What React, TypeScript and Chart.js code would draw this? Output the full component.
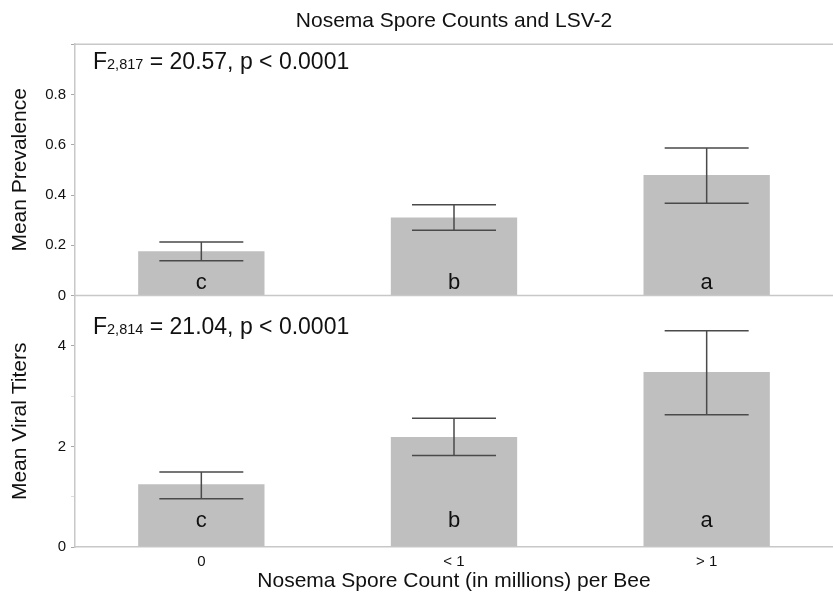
import React, { useEffect, useRef } from 'react';
import { Chart, registerables } from 'chart.js';

Chart.register(...registerables);

// ---- data ----
const categories = ['0', '< 1', '> 1'];
const groupLetters = ['c', 'b', 'a'];

const prevalenceMeans = [0.176, 0.311, 0.48];
const prevalenceUpper = [0.213, 0.361, 0.587];
const prevalenceLower = [0.139, 0.26, 0.367];

const titerMeans = [1.25, 2.19, 3.48];
const titerUpper = [1.49, 2.56, 4.3];
const titerLower = [0.96, 1.82, 2.63];

const prevalenceStat = ['F', '2,817', ' = 20.57, p < 0.0001'];
const titerStat = ['F', '2,814', ' = 21.04, p < 0.0001'];

const prevalenceRange = [0, 1];
const titerRange = [0, 5];

const FONT = '"Liberation Sans", Arial, Helvetica, sans-serif';
const AXIS_COLOR = '#c8c8c8';
const BAR_COLOR = '#bfbfbf';
const ERR_COLOR = '#4a4a4a';
const TEXT_COLOR = '#111';

const overlayPlugin = {
  id: 'overlay',
  afterDatasetsDraw(chart: any) {
    const ctx = chart.ctx as CanvasRenderingContext2D;
    const { left, right } = chart.chartArea;
    const yTop = chart.scales.yTop;
    const yBot = chart.scales.yBot;
    ctx.save();

    // panel frame lines
    ctx.strokeStyle = AXIS_COLOR;
    ctx.lineWidth = 1.5;
    ctx.beginPath();
    ctx.moveTo(left, yTop.top);
    ctx.lineTo(right, yTop.top);
    const z = yTop.getPixelForValue(0);
    ctx.moveTo(left, z);
    ctx.lineTo(right, z);
    ctx.stroke();

    const panels = [
      { scale: yTop, ds: 0, upper: prevalenceUpper, lower: prevalenceLower, letterOff: 7, stat: prevalenceStat, statOff: 25 },
      { scale: yBot, ds: 1, upper: titerUpper, lower: titerLower, letterOff: 20, stat: titerStat, statOff: 38 },
    ];

    for (const p of panels) {
      const meta = chart.getDatasetMeta(p.ds);
      const zero = p.scale.getPixelForValue(0);
      meta.data.forEach((el: any, i: number) => {
        const x = el.x;
        const yHi = p.scale.getPixelForValue(p.upper[i]);
        const yLo = p.scale.getPixelForValue(p.lower[i]);
        const half = 42;
        ctx.strokeStyle = ERR_COLOR;
        ctx.lineWidth = 1.5;
        ctx.beginPath();
        ctx.moveTo(x, yHi);
        ctx.lineTo(x, yLo);
        ctx.moveTo(x - half, yHi);
        ctx.lineTo(x + half, yHi);
        ctx.moveTo(x - half, yLo);
        ctx.lineTo(x + half, yLo);
        ctx.stroke();

        ctx.fillStyle = TEXT_COLOR;
        ctx.font = `22px ${FONT}`;
        ctx.textAlign = 'center';
        ctx.textBaseline = 'alphabetic';
        ctx.fillText(groupLetters[i], x, zero - p.letterOff);
      });

      // statistic annotation
      const base = p.scale.top + p.statOff;
      let x = left + 18;
      ctx.textAlign = 'left';
      ctx.textBaseline = 'alphabetic';
      ctx.fillStyle = TEXT_COLOR;
      const sizes = [23, 14.5, 23];
      p.stat.forEach((s, k) => {
        ctx.font = `${sizes[k]}px ${FONT}`;
        ctx.fillText(s, x, base);
        x += ctx.measureText(s).width;
      });
    }
    ctx.restore();
  },
};

export default function App() {
  const ref = useRef<HTMLCanvasElement>(null);

  useEffect(() => {
    const tickFont = { family: FONT, size: 15 };
    const titleFont = { family: FONT, size: 21 };
    const chart = new Chart(ref.current as HTMLCanvasElement, {
      type: 'bar',
      data: {
        labels: categories,
        datasets: [
          {
            label: 'Mean Prevalence',
            data: prevalenceMeans,
            yAxisID: 'yTop',
            backgroundColor: BAR_COLOR,
            grouped: false,
            barPercentage: 0.5,
            categoryPercentage: 1,
          } as any,
          {
            label: 'Mean Viral Titers',
            data: titerMeans,
            yAxisID: 'yBot',
            backgroundColor: BAR_COLOR,
            grouped: false,
            barPercentage: 0.5,
            categoryPercentage: 1,
          } as any,
        ],
      },
      options: {
        responsive: false,
        animation: false,
        layout: { padding: 0 },
        plugins: {
          legend: { display: false },
          tooltip: { enabled: false },
          title: {
            display: true,
            fullSize: false,
            text: 'Nosema Spore Counts and LSV-2',
            color: TEXT_COLOR,
            font: { family: FONT, size: 21, weight: 'normal' },
            padding: { top: 9, bottom: 10 },
          },
        },
        scales: {
          x: {
            type: 'category',
            position: 'bottom',
            grid: { display: false, drawTicks: false, tickLength: 0 },
            border: { display: true, color: AXIS_COLOR, width: 1.5 },
            ticks: { color: TEXT_COLOR, font: tickFont, padding: 6 },
            title: {
              display: true,
              text: 'Nosema Spore Count (in millions) per Bee',
              color: TEXT_COLOR,
              font: { ...titleFont, lineHeight: 1 },
              padding: 0,
            },
            afterFit: (s: any) => {
              s.height = 45;
            },
          },
          yBot: {
            type: 'linear',
            position: 'left',
            stack: 'panels',
            stackWeight: 1,
            min: titerRange[0],
            max: titerRange[1],
            ticks: {
              stepSize: 1,
              color: TEXT_COLOR,
              font: tickFont,
              padding: 5,
              callback: (v: any) => (v % 2 === 0 && v < titerRange[1] ? String(v) : ''),
            },
            grid: {
              drawOnChartArea: false,
              tickLength: 4,
              color: (c: any) => (c.tick && c.tick.value % 2 === 0 ? '#a8a8a8' : '#dcdcdc'),
            },
            border: { color: AXIS_COLOR, width: 1.5 },
            title: {
              display: true,
              text: 'Mean Viral Titers',
              color: TEXT_COLOR,
              font: titleFont,
              padding: { top: 8, bottom: 0 },
            },
            afterFit: (s: any) => {
              s.width = 75;
            },
          },
          yTop: {
            type: 'linear',
            position: 'left',
            stack: 'panels',
            stackWeight: 1,
            min: prevalenceRange[0],
            max: prevalenceRange[1],
            ticks: {
              stepSize: 0.1,
              color: TEXT_COLOR,
              font: tickFont,
              padding: 5,
              callback: (v: any) => {
                const k = Math.round(v * 10);
                if (k % 2 !== 0 || k >= 10) return '';
                return k === 0 ? '0' : (k / 10).toFixed(1);
              },
            },
            grid: {
              drawOnChartArea: false,
              tickLength: 4,
              color: (c: any) =>
                c.tick && Math.round(c.tick.value * 10) % 2 === 0 ? '#a8a8a8' : '#dcdcdc',
            },
            border: { color: AXIS_COLOR, width: 1.5 },
            title: {
              display: true,
              text: 'Mean Prevalence',
              color: TEXT_COLOR,
              font: titleFont,
              padding: { top: 8, bottom: 0 },
            },
            afterFit: (s: any) => {
              s.width = 75;
            },
          },
        } as any,
      },
      plugins: [overlayPlugin],
    });
    return () => chart.destroy();
  }, []);

  return (
    <div style={{ position: 'fixed', left: 0, top: 0, width: 833, height: 592, background: '#fff' }}>
      <canvas ref={ref} width={833} height={592} style={{ display: 'block', width: 833, height: 592 }} />
    </div>
  );
}
